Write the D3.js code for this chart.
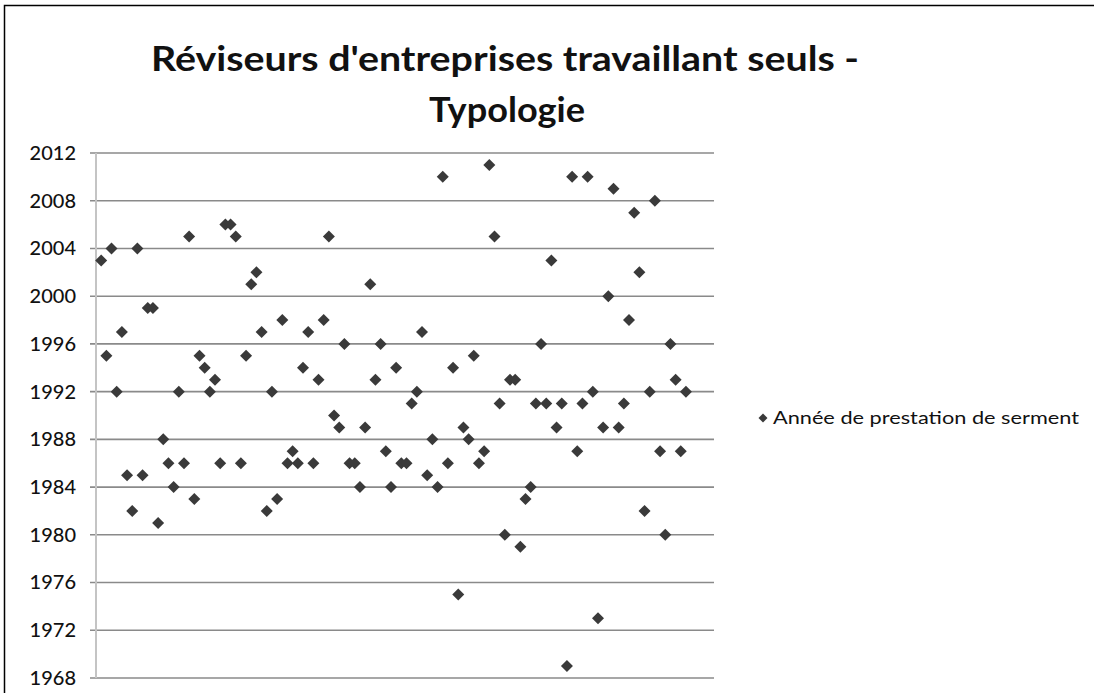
<!DOCTYPE html>
<html>
<head>
<meta charset="utf-8">
<script src="https://cdn.jsdelivr.net/npm/d3@7"></script>
<style>
  body { margin: 0; background: #fff; }
  text { font-family: Lato, "Open Sans", sans-serif; fill: #111; }
</style>
</head>
<body>
<div id="chart"></div>
<script>
const width = 1094,
    height = 693;

// titles / legend
const titleLines = ["Réviseurs d'entreprises travaillant seuls -", "Typologie"];
const seriesName = "Année de prestation de serment";

// y ticks (years)
const yTicks = [1968, 1972, 1976, 1980, 1984, 1988, 1992, 1996, 2000, 2004, 2008, 2012];

// one value per auditor, x = rank 1..N
const years = [
    2003, 1995, 2004, 1992, 1997, 1985, 1982, 2004, 1985, 1999,
    1999, 1981, 1988, 1986, 1984, 1992, 1986, 2005, 1983, 1995,
    1994, 1992, 1993, 1986, 2006, 2006, 2005, 1986, 1995, 2001,
    2002, 1997, 1982, 1992, 1983, 1998, 1986, 1987, 1986, 1994,
    1997, 1986, 1993, 1998, 2005, 1990, 1989, 1996, 1986, 1986,
    1984, 1989, 2001, 1993, 1996, 1987, 1984, 1994, 1986, 1986,
    1991, 1992, 1997, 1985, 1988, 1984, 2010, 1986, 1994, 1975,
    1989, 1988, 1995, 1986, 1987, 2011, 2005, 1991, 1980, 1993,
    1993, 1979, 1983, 1984, 1991, 1996, 1991, 2003, 1989, 1991,
    1969, 2010, 1987, 1991, 2010, 1992, 1973, 1989, 2000, 2009,
    1989, 1991, 1998, 2007, 2002, 1982, 1992, 2008, 1987, 1980,
    1996, 1993, 1987, 1992
];

const data = years.map((y, i) => ({ x: i + 1, y: y }));

const svg = d3.select('#chart')
    .append('svg')
    .attr('width', width)
    .attr('height', height);

// outer frame (only left / top visible in the crop)
svg.append('rect')
    .attr('x', 4.5)
    .attr('y', 5.5)
    .attr('width', width + 20)
    .attr('height', height + 20)
    .attr('fill', 'none')
    .attr('stroke', '#000')
    .attr('stroke-width', 1.5);

const xScale = d3.scaleLinear()
    .domain([0, 120])
    .range([96, 717]);
const yScale = d3.scaleLinear()
    .domain([1968, 2012])
    .range([678, 153]);

// gridlines
svg.append('g')
    .selectAll('line')
    .data(yTicks)
    .enter()
    .append('line')
    .attr('x1', 90)
    .attr('x2', 714)
    .attr('y1', d => yScale(d))
    .attr('y2', d => yScale(d))
    .attr('stroke', '#8a8a8a')
    .attr('stroke-width', 1.6);

// y axis line
svg.append('line')
    .attr('x1', xScale(0))
    .attr('x2', xScale(0))
    .attr('y1', yScale(2012))
    .attr('y2', yScale(1968))
    .attr('stroke', '#c4c4c4')
    .attr('stroke-width', 2);

// y axis labels
const yAxis = d3.axisLeft(yScale)
    .tickValues(yTicks)
    .tickFormat(d3.format('d'))
    .tickSize(0)
    .tickPadding(0);
const yAxisG = svg.append('g')
    .attr('transform', 'translate(76, 0)')
    .call(yAxis);
yAxisG.select('.domain').remove();
yAxisG.selectAll('text')
    .style('font-family', 'Lato, sans-serif')
    .style('font-size', '20px')
    .style('font-weight', '500')
    .attr('fill', '#111');

// diamond marker = square turned 45deg
const diamond = d3.symbol().type(d3.symbolSquare).size(72);

svg.append('g')
    .selectAll('.dot')
    .data(data)
    .enter()
    .append('path')
    .attr('class', 'dot')
    .attr('d', diamond)
    .attr('transform', d => 'translate(' + xScale(d.x) + ',' + yScale(d.y) + ') rotate(45)')
    .attr('fill', '#3a3a3a');

// title
svg.append('text')
    .attr('x', 505)
    .attr('y', 71)
    .attr('text-anchor', 'middle')
    .style('font-size', '34px')
    .style('font-weight', 'bold')
    .attr('textLength', 708)
    .attr('lengthAdjust', 'spacingAndGlyphs')
    .text(titleLines[0]);
svg.append('text')
    .attr('x', 507)
    .attr('y', 122)
    .attr('text-anchor', 'middle')
    .style('font-size', '34px')
    .style('font-weight', 'bold')
    .attr('textLength', 156)
    .attr('lengthAdjust', 'spacingAndGlyphs')
    .text(titleLines[1]);

// legend
svg.append('path')
    .attr('d', d3.symbol().type(d3.symbolSquare).size(40))
    .attr('transform', 'translate(763,418) rotate(45)')
    .attr('fill', '#3a3a3a');
svg.append('text')
    .attr('x', 773)
    .attr('y', 424)
    .style('font-size', '17px')
    .attr('textLength', 306)
    .attr('lengthAdjust', 'spacingAndGlyphs')
    .text(seriesName);
</script>
</body>
</html>
